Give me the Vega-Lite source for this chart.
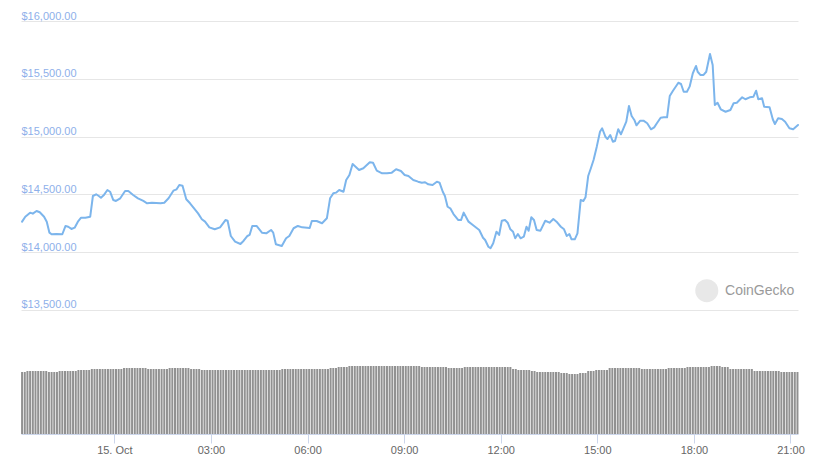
{
  "$schema": "https://vega.github.io/schema/vega-lite/v6.json",
  "width": 777,
  "height": 413,
  "autosize": {"type": "none"},
  "padding": {"left": 21, "top": 21, "right": 23, "bottom": 34},
  "background": "white",
  "config": {"view": {"stroke": null}, "font": "Liberation Sans"},
  "datasets": {
    "vol": [
      {"m":-172,"v":62},{"m":-167,"v":62},{"m":-162,"v":63},{"m":-157,"v":63},{"m":-152,"v":63},{"m":-147,"v":63},{"m":-142,"v":63},{"m":-137,"v":63},{"m":-132,"v":63},{"m":-127,"v":63},
      {"m":-122,"v":62},{"m":-117,"v":62},{"m":-112,"v":62},{"m":-107,"v":62},{"m":-102,"v":63},{"m":-97,"v":63},{"m":-92,"v":63},{"m":-87,"v":63},{"m":-82,"v":63},{"m":-77,"v":63},
      {"m":-72,"v":63},{"m":-67,"v":64},{"m":-62,"v":64},{"m":-57,"v":64},{"m":-52,"v":64},{"m":-47,"v":64},{"m":-42,"v":65},{"m":-37,"v":65},{"m":-32,"v":65},{"m":-27,"v":65},
      {"m":-22,"v":65},{"m":-17,"v":65},{"m":-12,"v":65},{"m":-7,"v":65},{"m":-2,"v":65},{"m":3,"v":65},{"m":8,"v":65},{"m":13,"v":65},{"m":18,"v":66},{"m":23,"v":66},
      {"m":28,"v":66},{"m":33,"v":66},{"m":38,"v":66},{"m":43,"v":66},{"m":48,"v":66},{"m":53,"v":66},{"m":58,"v":66},{"m":63,"v":65},{"m":68,"v":65},{"m":73,"v":65},
      {"m":78,"v":65},{"m":83,"v":65},{"m":88,"v":65},{"m":93,"v":65},{"m":98,"v":65},{"m":103,"v":66},{"m":108,"v":66},{"m":113,"v":66},{"m":118,"v":66},{"m":123,"v":66},
      {"m":128,"v":66},{"m":133,"v":66},{"m":138,"v":66},{"m":143,"v":65},{"m":148,"v":65},{"m":153,"v":65},{"m":158,"v":65},{"m":163,"v":64},{"m":168,"v":64},{"m":173,"v":64},
      {"m":178,"v":64},{"m":183,"v":64},{"m":188,"v":64},{"m":193,"v":64},{"m":198,"v":64},{"m":203,"v":64},{"m":208,"v":64},{"m":213,"v":64},{"m":218,"v":64},{"m":223,"v":64},
      {"m":228,"v":64},{"m":233,"v":64},{"m":238,"v":64},{"m":243,"v":64},{"m":248,"v":64},{"m":253,"v":64},{"m":258,"v":64},{"m":263,"v":64},{"m":268,"v":64},{"m":273,"v":64},
      {"m":278,"v":64},{"m":283,"v":64},{"m":288,"v":64},{"m":293,"v":64},{"m":298,"v":64},{"m":303,"v":64},{"m":308,"v":64},{"m":313,"v":65},{"m":318,"v":65},{"m":323,"v":65},
      {"m":328,"v":65},{"m":333,"v":65},{"m":338,"v":65},{"m":343,"v":65},{"m":348,"v":65},{"m":353,"v":65},{"m":358,"v":65},{"m":363,"v":65},{"m":368,"v":65},{"m":373,"v":65},
      {"m":378,"v":65},{"m":383,"v":65},{"m":388,"v":65},{"m":393,"v":65},{"m":398,"v":65},{"m":403,"v":66},{"m":408,"v":66},{"m":413,"v":66},{"m":418,"v":67},{"m":423,"v":67},
      {"m":428,"v":67},{"m":433,"v":67},{"m":438,"v":68},{"m":443,"v":68},{"m":448,"v":68},{"m":453,"v":68},{"m":458,"v":68},{"m":463,"v":68},{"m":468,"v":68},{"m":473,"v":68},
      {"m":478,"v":68},{"m":483,"v":68},{"m":488,"v":68},{"m":493,"v":68},{"m":498,"v":68},{"m":503,"v":68},{"m":508,"v":68},{"m":513,"v":68},{"m":518,"v":68},{"m":523,"v":68},
      {"m":528,"v":68},{"m":533,"v":68},{"m":538,"v":68},{"m":543,"v":68},{"m":548,"v":68},{"m":553,"v":68},{"m":558,"v":68},{"m":563,"v":68},{"m":568,"v":68},{"m":573,"v":67},
      {"m":578,"v":67},{"m":583,"v":67},{"m":588,"v":67},{"m":593,"v":67},{"m":598,"v":67},{"m":603,"v":67},{"m":608,"v":67},{"m":613,"v":67},{"m":618,"v":67},{"m":623,"v":66},
      {"m":628,"v":66},{"m":633,"v":66},{"m":638,"v":66},{"m":643,"v":66},{"m":648,"v":66},{"m":653,"v":67},{"m":658,"v":67},{"m":663,"v":67},{"m":668,"v":67},{"m":673,"v":67},
      {"m":678,"v":67},{"m":683,"v":67},{"m":688,"v":67},{"m":693,"v":67},{"m":698,"v":67},{"m":703,"v":67},{"m":708,"v":67},{"m":713,"v":67},{"m":718,"v":67},{"m":723,"v":67},
      {"m":728,"v":67},{"m":733,"v":67},{"m":738,"v":67},{"m":743,"v":65},{"m":748,"v":65},{"m":753,"v":64},{"m":758,"v":64},{"m":763,"v":64},{"m":768,"v":64},{"m":773,"v":64},
      {"m":778,"v":63},{"m":783,"v":63},{"m":788,"v":62},{"m":793,"v":62},{"m":798,"v":62},{"m":803,"v":62},{"m":808,"v":62},{"m":813,"v":62},{"m":818,"v":62},{"m":823,"v":62},
      {"m":828,"v":62},{"m":833,"v":61},{"m":838,"v":61},{"m":843,"v":61},{"m":848,"v":60},{"m":853,"v":60},{"m":858,"v":60},{"m":863,"v":60},{"m":868,"v":61},{"m":873,"v":61},
      {"m":878,"v":61},{"m":883,"v":63},{"m":888,"v":63},{"m":893,"v":63},{"m":898,"v":64},{"m":903,"v":64},{"m":908,"v":64},{"m":913,"v":64},{"m":918,"v":64},{"m":923,"v":66},
      {"m":928,"v":66},{"m":933,"v":66},{"m":938,"v":66},{"m":943,"v":66},{"m":948,"v":66},{"m":953,"v":66},{"m":958,"v":66},{"m":963,"v":66},{"m":968,"v":66},{"m":973,"v":66},
      {"m":978,"v":66},{"m":983,"v":65},{"m":988,"v":65},{"m":993,"v":65},{"m":998,"v":65},{"m":1003,"v":65},{"m":1008,"v":65},{"m":1013,"v":65},{"m":1018,"v":65},{"m":1023,"v":65},
      {"m":1028,"v":65},{"m":1033,"v":66},{"m":1038,"v":66},{"m":1043,"v":66},{"m":1048,"v":66},{"m":1053,"v":66},{"m":1058,"v":66},{"m":1063,"v":66},{"m":1068,"v":67},{"m":1073,"v":67},
      {"m":1078,"v":67},{"m":1083,"v":67},{"m":1088,"v":67},{"m":1093,"v":67},{"m":1098,"v":67},{"m":1103,"v":67},{"m":1108,"v":67},{"m":1113,"v":68},{"m":1118,"v":68},{"m":1123,"v":68},
      {"m":1128,"v":68},{"m":1133,"v":67},{"m":1138,"v":67},{"m":1143,"v":67},{"m":1148,"v":65},{"m":1153,"v":65},{"m":1158,"v":65},{"m":1163,"v":65},{"m":1168,"v":65},{"m":1173,"v":65},
      {"m":1178,"v":65},{"m":1183,"v":65},{"m":1188,"v":65},{"m":1193,"v":63},{"m":1198,"v":63},{"m":1203,"v":63},{"m":1208,"v":63},{"m":1213,"v":63},{"m":1218,"v":63},{"m":1223,"v":63},
      {"m":1228,"v":63},{"m":1233,"v":63},{"m":1238,"v":63},{"m":1243,"v":62},{"m":1248,"v":62},{"m":1253,"v":62},{"m":1258,"v":62},{"m":1263,"v":62},{"m":1268,"v":62},{"m":1273,"v":62}
    ],
    "price": [
      {"m":-172,"p":14264},{"m":-166,"p":14307},{"m":-157,"p":14342},{"m":-152,"p":14333},{"m":-145,"p":14356},{"m":-139,"p":14345},{"m":-131,"p":14307},{"m":-126,"p":14264},{"m":-121,"p":14169},{"m":-117,"p":14155},
      {"m":-108,"p":14157},{"m":-97,"p":14155},{"m":-91,"p":14227},{"m":-86,"p":14220},{"m":-80,"p":14201},{"m":-74,"p":14212},{"m":-68,"p":14264},{"m":-62,"p":14298},{"m":-54,"p":14298},{"m":-45,"p":14307},
      {"m":-40,"p":14486},{"m":-34,"p":14501},{"m":-29,"p":14486},{"m":-25,"p":14471},{"m":-20,"p":14492},{"m":-13,"p":14538},{"m":-8,"p":14523},{"m":-2,"p":14451},{"m":3,"p":14443},{"m":11,"p":14466},
      {"m":20,"p":14529},{"m":26,"p":14529},{"m":35,"p":14495},{"m":44,"p":14466},{"m":54,"p":14443},{"m":61,"p":14423},{"m":70,"p":14428},{"m":86,"p":14423},{"m":93,"p":14428},{"m":101,"p":14466},
      {"m":110,"p":14532},{"m":116,"p":14544},{"m":121,"p":14581},{"m":127,"p":14575},{"m":134,"p":14458},{"m":141,"p":14423},{"m":150,"p":14371},{"m":156,"p":14336},{"m":163,"p":14285},{"m":169,"p":14264},
      {"m":177,"p":14215},{"m":187,"p":14198},{"m":197,"p":14215},{"m":207,"p":14278},{"m":211,"p":14272},{"m":217,"p":14140},{"m":225,"p":14091},{"m":235,"p":14071},{"m":241,"p":14099},{"m":248,"p":14140},
      {"m":252,"p":14149},{"m":257,"p":14227},{"m":265,"p":14227},{"m":275,"p":14169},{"m":283,"p":14163},{"m":292,"p":14192},{"m":296,"p":14169},{"m":301,"p":14068},{"m":312,"p":14054},{"m":320,"p":14120},
      {"m":326,"p":14140},{"m":334,"p":14207},{"m":342,"p":14227},{"m":350,"p":14215},{"m":364,"p":14209},{"m":368,"p":14270},{"m":377,"p":14270},{"m":387,"p":14250},{"m":396,"p":14293},{"m":402,"p":14466},
      {"m":408,"p":14509},{"m":413,"p":14515},{"m":419,"p":14538},{"m":427,"p":14523},{"m":432,"p":14624},{"m":438,"p":14668},{"m":444,"p":14763},{"m":448,"p":14746},{"m":456,"p":14711},{"m":464,"p":14726},
      {"m":476,"p":14778},{"m":482,"p":14774},{"m":489,"p":14705},{"m":499,"p":14682},{"m":508,"p":14682},{"m":517,"p":14688},{"m":525,"p":14717},{"m":534,"p":14702},{"m":541,"p":14668},{"m":548,"p":14659},
      {"m":557,"p":14624},{"m":566,"p":14610},{"m":573,"p":14601},{"m":579,"p":14605},{"m":585,"p":14587},{"m":593,"p":14581},{"m":601,"p":14610},{"m":606,"p":14601},{"m":612,"p":14523},{"m":616,"p":14486},
      {"m":621,"p":14393},{"m":626,"p":14380},{"m":632,"p":14330},{"m":641,"p":14278},{"m":646,"p":14278},{"m":651,"p":14342},{"m":660,"p":14264},{"m":668,"p":14235},{"m":680,"p":14192},{"m":687,"p":14125},
      {"m":691,"p":14105},{"m":697,"p":14047},{"m":701,"p":14034},{"m":706,"p":14077},{"m":712,"p":14177},{"m":717,"p":14149},{"m":722,"p":14272},{"m":728,"p":14278},{"m":733,"p":14255},{"m":738,"p":14198},
      {"m":743,"p":14177},{"m":747,"p":14120},{"m":752,"p":14157},{"m":757,"p":14120},{"m":763,"p":14134},{"m":768,"p":14220},{"m":772,"p":14186},{"m":777,"p":14302},{"m":782,"p":14278},{"m":787,"p":14192},
      {"m":794,"p":14186},{"m":803,"p":14272},{"m":811,"p":14255},{"m":818,"p":14287},{"m":824,"p":14264},{"m":832,"p":14220},{"m":838,"p":14198},{"m":843,"p":14140},{"m":848,"p":14157},{"m":852,"p":14111},
      {"m":858,"p":14111},{"m":863,"p":14163},{"m":869,"p":14451},{"m":874,"p":14443},{"m":878,"p":14475},{"m":883,"p":14659},{"m":888,"p":14726},{"m":893,"p":14798},{"m":899,"p":14913},{"m":905,"p":15042},
      {"m":909,"p":15072},{"m":915,"p":14999},{"m":919,"p":14979},{"m":924,"p":15014},{"m":929,"p":14956},{"m":933,"p":14962},{"m":939,"p":15063},{"m":944,"p":15020},{"m":954,"p":15129},{"m":959,"p":15265},
      {"m":964,"p":15178},{"m":969,"p":15144},{"m":973,"p":15098},{"m":980,"p":15138},{"m":986,"p":15138},{"m":993,"p":15115},{"m":1000,"p":15063},{"m":1006,"p":15080},{"m":1011,"p":15115},{"m":1018,"p":15163},
      {"m":1024,"p":15167},{"m":1030,"p":15167},{"m":1035,"p":15351},{"m":1041,"p":15397},{"m":1047,"p":15438},{"m":1051,"p":15466},{"m":1056,"p":15455},{"m":1061,"p":15388},{"m":1067,"p":15388},{"m":1072,"p":15432},
      {"m":1078,"p":15548},{"m":1084,"p":15611},{"m":1087,"p":15561},{"m":1092,"p":15533},{"m":1098,"p":15533},{"m":1103,"p":15561},{"m":1110,"p":15715},{"m":1115,"p":15619},{"m":1119,"p":15273},{"m":1124,"p":15293},
      {"m":1130,"p":15236},{"m":1139,"p":15215},{"m":1148,"p":15230},{"m":1154,"p":15288},{"m":1160,"p":15293},{"m":1170,"p":15340},{"m":1176,"p":15323},{"m":1184,"p":15340},{"m":1191,"p":15345},{"m":1196,"p":15397},
      {"m":1200,"p":15323},{"m":1207,"p":15331},{"m":1211,"p":15259},{"m":1221,"p":15253},{"m":1227,"p":15150},{"m":1231,"p":15109},{"m":1237,"p":15158},{"m":1244,"p":15152},{"m":1250,"p":15129},{"m":1258,"p":15072},
      {"m":1265,"p":15063},{"m":1274,"p":15100}
    ],
    "mark": [
      {"m":1104,"p":13667,"label":""},
      {"m":1138,"p":13667,"label":"CoinGecko"}
    ]
  },
  "layer": [
    {
      "data": {"name": "vol"},
      "mark": {"type": "bar", "size": 2, "color": "#919191"},
      "encoding": {
        "x": {
          "field": "m", "type": "quantitative",
          "scale": {"domain": [-174, 1274], "nice": false, "zero": false, "padding": 0},
          "axis": {
            "title": null,
            "values": [0, 180, 360, 540, 720, 900, 1080, 1260],
            "labelExpr": "datum.value == 0 ? '15. Oct' : (datum.value < 600 ? '0' : '') + (datum.value / 60) + ':00'",
            "grid": false,
            "domainColor": "#ccd6eb",
            "tickColor": "#ccd6eb",
            "tickSize": 9,
            "labelColor": "#666666",
            "labelFont": "Liberation Sans",
            "labelFontSize": 11,
            "labelPadding": 1
          }
        },
        "y": {
          "field": "v", "type": "quantitative",
          "scale": {"domain": [0, 413], "nice": false},
          "axis": null
        }
      }
    },
    {
      "layer": [
        {
          "data": {"name": "price"},
          "mark": {"type": "line", "color": "#7cb5ec", "strokeWidth": 2, "strokeJoin": "round", "strokeCap": "round"},
          "encoding": {
            "x": {"field": "m", "type": "quantitative"},
            "y": {
              "field": "p", "type": "quantitative",
              "scale": {"domain": [12427, 16000], "nice": false, "zero": false},
              "axis": {
                "title": null,
                "orient": "left",
                "values": [13500, 14000, 14500, 15000, 15500, 16000],
                "format": "$,.2f",
                "grid": true,
                "gridColor": "#e6e6e6",
                "domain": false,
                "ticks": false,
                "tickSize": 0,
                "labelAlign": "left",
                "labelBaseline": "alphabetic",
                "labelOffset": -2,
                "labelPadding": 0,
                "labelColor": "#8eb0ea",
                "labelFont": "Liberation Sans",
                "labelFontSize": 11
              }
            }
          }
        },
        {
          "data": {"name": "mark"},
          "transform": [{"filter": "datum.label == ''"}],
          "mark": {"type": "circle", "size": 530, "color": "#e8e8e8", "opacity": 1},
          "encoding": {
            "x": {"field": "m", "type": "quantitative"},
            "y": {"field": "p", "type": "quantitative"}
          }
        },
        {
          "data": {"name": "mark"},
          "transform": [{"filter": "datum.label != ''"}],
          "mark": {"type": "text", "align": "left", "baseline": "middle", "font": "Liberation Sans", "fontSize": 14, "color": "#9a9a9a"},
          "encoding": {
            "x": {"field": "m", "type": "quantitative"},
            "y": {"field": "p", "type": "quantitative"},
            "text": {"field": "label"}
          }
        }
      ]
    }
  ],
  "resolve": {"scale": {"y": "independent"}}
}
